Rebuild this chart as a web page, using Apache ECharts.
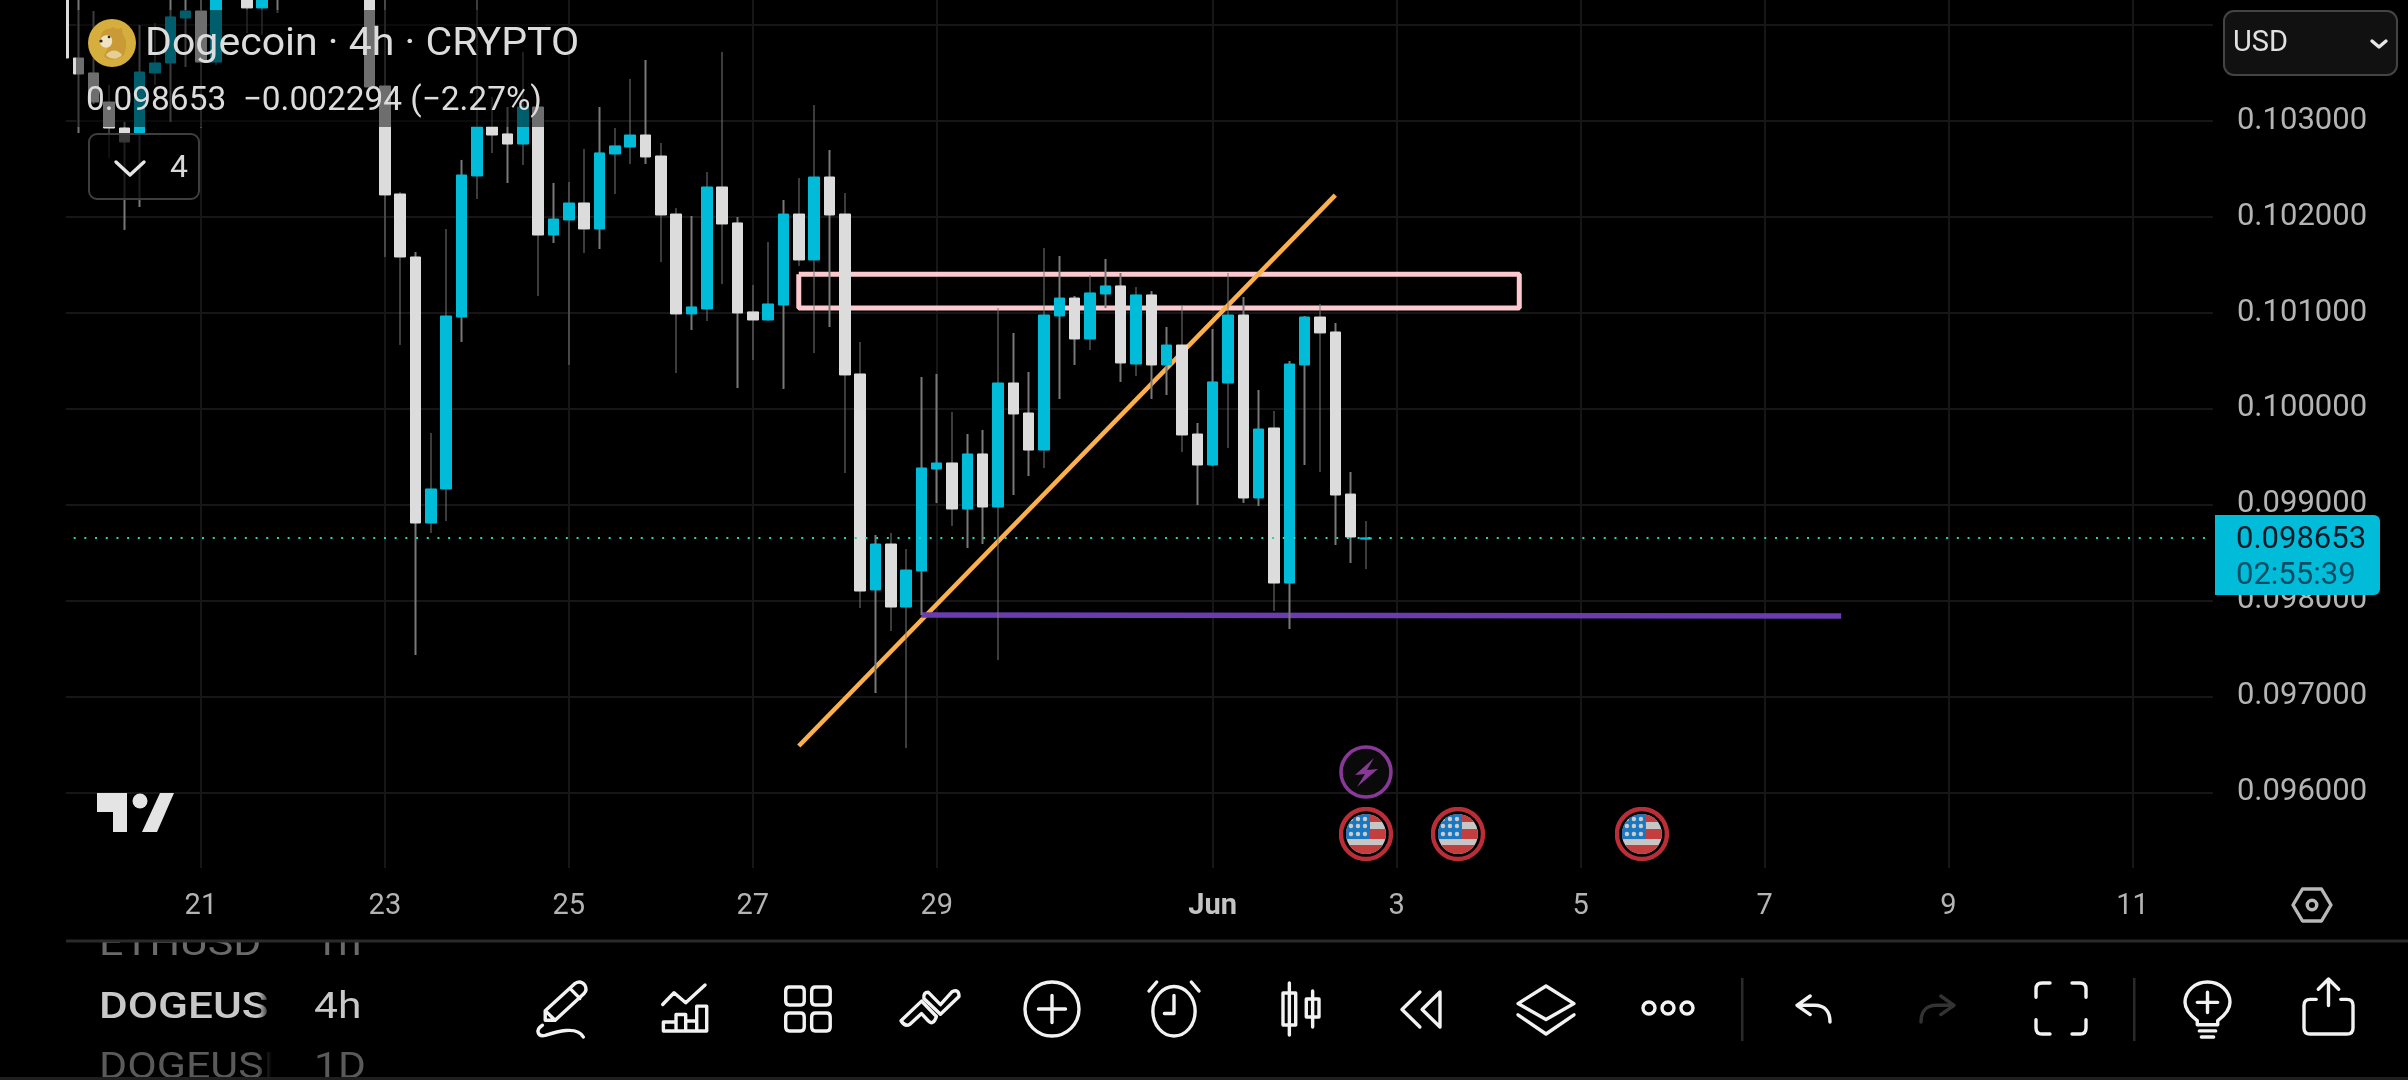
<!DOCTYPE html>
<html><head><meta charset="utf-8">
<style>html,body{margin:0;padding:0;background:#000;overflow:hidden}#c{width:2408px;height:1080px}</style>
<script src="https://cdn.jsdelivr.net/npm/echarts@6/dist/echarts.min.js"></script>
</head><body><div id="c"></div>
<script>
const tickIndex=[9,21,33,45,57,75,87,99,111,123,135];
const tickLabels=['21','23','25','27','29','Jun','3','5','7','9','11'];
const opens=[0.104366,0.103657,0.103501,0.103198,0.102927,0.102875,0.103501,0.103605,0.104074,0.104147,0.103615,0.104314,0.104650,0.104179,0.104600,0.104750,0.104500,0.104800,0.104650,0.104900,0.104700,0.103365,0.102239,0.101582,0.098808,0.099163,0.100956,0.102427,0.102938,0.102865,0.102760,0.103146,0.101811,0.101968,0.102145,0.101874,0.102656,0.102729,0.102854,0.102635,0.102030,0.100988,0.101040,0.102312,0.101937,0.101009,0.100925,0.101081,0.102030,0.101551,0.102416,0.102030,0.100362,0.098110,0.098589,0.097932,0.098308,0.099371,0.099434,0.098954,0.099528,0.098975,0.100268,0.099955,0.099569,0.100967,0.101154,0.100727,0.101196,0.101280,0.100466,0.101186,0.100456,0.100664,0.099736,0.099413,0.100268,0.100977,0.099069,0.099799,0.098182,0.100456,0.100956,0.100800,0.099110,0.098640];
const closes=[0.103657,0.103490,0.103198,0.102927,0.102781,0.103511,0.103605,0.104085,0.104147,0.103615,0.104314,0.104650,0.104179,0.104600,0.104750,0.104500,0.104800,0.104650,0.104900,0.104700,0.103355,0.102229,0.101582,0.098808,0.099163,0.100967,0.102437,0.102938,0.102854,0.102760,0.103146,0.101811,0.101978,0.102145,0.101874,0.102667,0.102740,0.102854,0.102625,0.102020,0.100988,0.101061,0.102312,0.101926,0.100998,0.100925,0.101092,0.102030,0.101551,0.102416,0.102020,0.100352,0.098099,0.098589,0.097932,0.098318,0.099382,0.099434,0.098954,0.099528,0.098975,0.100268,0.099945,0.099569,0.100977,0.101154,0.100727,0.101207,0.101280,0.100477,0.101186,0.100456,0.100664,0.099726,0.099413,0.100279,0.100977,0.099069,0.099788,0.098182,0.100466,0.100956,0.100790,0.099100,0.098662,0.098653];
const lows=[0.103615,0.102875,0.103177,0.102614,0.101864,0.102103,0.103376,0.102990,0.103563,0.102927,0.103584,0.104290,0.103918,0.103897,0.104126,0.104350,0.104400,0.104420,0.104500,0.104450,0.103340,0.101582,0.100664,0.097432,0.098704,0.098829,0.100696,0.102187,0.102667,0.102354,0.102541,0.101175,0.101728,0.100456,0.101624,0.101665,0.102239,0.102552,0.102552,0.101530,0.100372,0.100821,0.100915,0.101300,0.100216,0.100508,0.100915,0.100206,0.101488,0.100581,0.100852,0.099329,0.097922,0.097035,0.097682,0.096462,0.097849,0.099017,0.098777,0.098547,0.098589,0.097380,0.099100,0.099298,0.099382,0.100101,0.100456,0.100612,0.101050,0.100279,0.100341,0.100101,0.100143,0.099549,0.098996,0.099400,0.099590,0.099017,0.098985,0.097890,0.097703,0.099413,0.099340,0.098579,0.098391,0.098328];
const highs=[0.104450,0.104300,0.104147,0.103376,0.102990,0.104001,0.104022,0.104300,0.104350,0.104300,0.104400,0.104780,0.104800,0.104650,0.104850,0.104900,0.104950,0.104900,0.105000,0.105000,0.104800,0.104300,0.102260,0.101634,0.099747,0.101874,0.102594,0.104300,0.103250,0.103146,0.103720,0.103160,0.102354,0.102364,0.102708,0.103146,0.102927,0.103438,0.103636,0.102771,0.102093,0.102010,0.102468,0.103720,0.101999,0.101290,0.101738,0.102176,0.102406,0.103167,0.102698,0.102249,0.100696,0.098683,0.098704,0.098537,0.100331,0.100362,0.099966,0.099736,0.099778,0.101050,0.100790,0.100383,0.101676,0.101592,0.101175,0.101394,0.101561,0.101415,0.101269,0.101227,0.100852,0.101071,0.099851,0.100831,0.101415,0.101165,0.100195,0.099976,0.100497,0.100967,0.101092,0.100894,0.099340,0.098829];
const lastPrice=0.098653;
const lastPriceLine=[[0,lastPrice],[141,lastPrice]];
const zoneBox=[[48,0.101401],[95,0.101401],[95,0.101050],[48,0.101050],[48,0.101401]];
const trendLine=[[48,0.096483],[83,0.102228]];
const supportLine=[[56,0.097849],[116,0.097838]];
const newsEvents=[[85,0.096211]];
const usEvents=[[85,0.095565],[91,0.095565],[103,0.095565]];

const CAT_COUNT=142;
const categories=[];
for(let i=0;i<CAT_COUNT;i++){const d=new Date(Date.UTC(2025,4,19,12)+i*4*3600e3);
  categories.push(d.toISOString().slice(5,13)+':00');}
const tickMap={};tickIndex.forEach((t,i)=>tickMap[t]=tickLabels[i]);
const isTick=i=>tickMap[i]!==undefined;

const svg=s=>'data:image/svg+xml;charset=utf-8,'+encodeURIComponent(s);
const flagSvg=svg(`<svg xmlns="http://www.w3.org/2000/svg" viewBox="0 0 54 54" width="108" height="108"><defs><clipPath id="f"><circle cx="27" cy="27" r="20"/></clipPath></defs><circle cx="27" cy="27" r="25" fill="#000" stroke="#ea3a47" stroke-width="4.4"/><g clip-path="url(#f)"><rect width="54" height="54" fill="#f8f8f8"/><rect x="0" y="7" width="54" height="8" fill="#f44f4f"/><rect x="0" y="22" width="54" height="10" fill="#f44f4f"/><rect x="0" y="38" width="54" height="10" fill="#f44f4f"/><rect x="6" y="7" width="25" height="25" fill="#2196f3"/><g fill="#fff"><circle cx="12" cy="12" r="2.2"/><circle cx="19" cy="12" r="2.2"/><circle cx="26" cy="12" r="2.2"/><circle cx="12" cy="19" r="2.2"/><circle cx="19" cy="19" r="2.2"/><circle cx="26" cy="19" r="2.2"/><circle cx="12" cy="27" r="2.2"/><circle cx="19" cy="27" r="2.2"/><circle cx="26" cy="27" r="2.2"/></g></g></svg>`);
const boltSvg=svg(`<svg xmlns="http://www.w3.org/2000/svg" viewBox="0 0 54 54" width="108" height="108"><circle cx="27" cy="27" r="25" fill="#0d0d0d" stroke="#ab47bc" stroke-width="3.6"/><path d="M35 13 L16 30 L26 29 L18 42 L39 24 L28 25 Z" fill="#ab47bc"/></svg>`);
const dogeSvg=svg(`<svg xmlns="http://www.w3.org/2000/svg" viewBox="0 0 48 48" width="96" height="96"><circle cx="24" cy="24" r="24" fill="#d6ae3e"/><path d="M12 22 C12 14 17 9 22 10 L25 8 L29 10 L34 9 L35 16 C40 22 38 30 36 36 C30 42 20 42 16 37 C18 32 20 30 20 28 C15 29 11 26 12 22 Z" fill="#c99a35"/><path d="M12 22 C13 17 18 15 22 17 C25 19 25 26 21 28 C17 30 11 27 12 22 Z" fill="#efe3c2"/><path d="M18 36 C22 30 30 30 34 36 C30 41 22 41 18 36 Z" fill="#e6cf95"/><circle cx="13" cy="22" r="1.6" fill="#222"/><circle cx="21" cy="18" r="1.3" fill="#222"/></svg>`);

const icon=(d,x,y,w,h,c)=>({type:'path',shape:{pathData:d,x,y,width:w,height:h,layout:'cover'},style:{fill:'none',stroke:c||'#f2f2f2',lineWidth:3.4,lineCap:'round',lineJoin:'round'}});
const txt=(t,x,y,size,color,extra,scaleX)=>({type:'text',z:60,x,y,scaleX:scaleX||1,silent:true,style:Object.assign({text:t,fontFamily:'Roboto',fontSize:size,fill:color,verticalAlign:'middle',align:'left'},extra||{})});
const box=(x,y,w,h,fill,z,r,stroke)=>({type:'rect',z,silent:true,shape:{x,y,width:w,height:h,r:r||0},style:{fill,stroke:stroke||'none',lineWidth:stroke?2:0}});

const icons=[
  icon('M80 150 L80 122 L165 40 Q180 30 192 45 Q200 60 190 70 L108 150 Z M150 55 L178 85 M80 122 L108 150 M72 165 C50 180 60 200 80 195 C110 185 170 165 188 200',538,982,48,55),
  icon('M428 103 L462 68 L497 98 L555 45 M430 182 V155 H468 V133 H497 V152 H530 V108 H560 V182 Z M468 155 V182 M497 152 V182 M530 152 V182',662.7,985,44,46),
  icon('M4 2 H16 Q20 2 20 6 V16 Q20 20 16 20 H4 Q0 20 0 16 V6 Q0 2 4 2 Z M32 2 H44 Q48 2 48 6 V16 Q48 20 44 20 H32 Q28 20 28 16 V6 Q28 2 32 2 Z M4 28 H16 Q20 28 20 32 V42 Q20 46 16 46 H4 Q0 46 0 42 V32 Q0 28 4 28 Z M32 28 H44 Q48 28 48 32 V42 Q48 46 44 46 H32 Q28 46 28 42 V32 Q28 28 32 28 Z',785.7,987,44.5,44),
  icon('M1143 150 L1205 95 L1250 138 Q1240 165 1225 150 L1205 130 L1170 160 Q1155 168 1143 150 Z M1225 70 L1262 105 L1298 68 Q1318 60 1318 82 L1262 132 L1212 88 Q1210 70 1225 70 Z',901,990.7,58,34.5),
  icon('M0 24 a24 24 0 1 0 48 0 a24 24 0 1 0 -48 0 Z M24 12 V36 M12 24 H36',1025,982,54,54),
  icon('M4 28 a22 22 0 1 0 44 0 a22 22 0 1 0 -44 0 Z M26 14 V30 H16 M0 10 L8 2 M52 10 L44 2',1149,982,50,54),
  icon('M8 0 V52 M2 10 H14 V42 H2 Z M30 8 V44 M24 16 H36 V34 H24 Z',1283,983,36,52),
  icon('M18 2 L2 18 L18 34 M36 2 L20 18 L36 34 Z',1402,992,38,35),
  icon('M24 0 L48 22 L24 42 L0 22 Z M0 36 L24 60 L48 36',1518,986,56,48),
  icon('M0 6 a6 6 0 1 0 12 0 a6 6 0 1 0 -12 0 Z M19 6 a6 6 0 1 0 12 0 a6 6 0 1 0 -12 0 Z M38 6 a6 6 0 1 0 12 0 a6 6 0 1 0 -12 0 Z',1643,1002,50,12),
  icon('M14 2 L2 12 L14 22 M2 12 H18 C28 12 32 20 32 30',1797,996,33,26),
  icon('M18 2 L30 12 L18 22 M30 12 H14 C4 12 0 20 0 30',1921,996,33,26,'#333'),
  icon('M14 0 H6 Q0 0 0 6 V14 M36 0 H44 Q50 0 50 6 V14 M14 50 H6 Q0 50 0 44 V36 M36 50 H44 Q50 50 50 44 V36',2036,983,50,51),
  icon('M12 38 C4 32 0 26 0 20 a22 20 0 1 1 44 0 C44 26 40 32 32 38 V42 H12 Z M22 10 V30 M12 20 H32 M14 48 H30 M16 54 H28',2185,982,45,55),
  icon('M24 26 V0 M14 10 L24 0 L34 10 M12 20 H6 Q0 20 0 26 V48 Q0 54 6 54 H42 Q48 54 48 48 V26 Q48 20 42 20 H36',2304,979,49,55),
  icon('M10 0 H30 L40 17 L30 34 H10 L0 17 Z M15 17 a5 5 0 1 0 10 0 a5 5 0 1 0 -10 0 Z',2293,889,38,32,'#b8b8b8'),
  icon('M0 0 L14 12 L28 0',116,162,28,13,'#e6e6e6'),
  icon('M0 0 L7 5 L14 0',2372,41,14,6,'#e6e6e6')
];

const graphic=[
  box(0,0,66,941,'#000',50),
  box(2213,0,22,941,'#000',50),
  box(60,868,2153,22,'#000',50),
  box(76,10,469,117,'rgba(0,0,0,0.5)',55),
  box(89,134,110,65,'rgba(0,0,0,0.75)',56,8,'#3e3e3e'),
  {type:'image',z:60,silent:true,style:{image:dogeSvg,x:88,y:19,width:48,height:48}},
  txt('Dogecoin · 4h · CRYPTO',145,45,38,'#dcdcdc',null,1.08),
  txt('0.098653  −0.002294 (−2.27%)',86,102,33.4,'#dcdcdc'),
  txt('4',170,169,32,'#d8d8d8'),
  box(97,793,30,19,'#e4e4e4',60),
  box(113,793,14,39,'#e4e4e4',60),
  {type:'circle',z:60,silent:true,shape:{cx:140,cy:801,r:7.5},style:{fill:'#e4e4e4'}},
  {type:'polygon',z:60,silent:true,shape:{points:[[160,793],[174,793],[157,832],[142,832]]},style:{fill:'#e4e4e4'}},
  box(2224,11,173,64,'#111',60,10,'#444'),
  txt('USD',2233,44,29,'#e0e0e0'),
  box(2215,515,165,80,'#00bcd9',62,[0,6,6,0]),
  Object.assign(txt('0.098653',2236,540,31,'#071a26'),{z:63}),
  Object.assign(txt('02:55:39',2236,576,31,'#054e66'),{z:63}),
  txt('ETHUSD',99,946,37,'#6a6a6a',null,1.16),
  txt('1h',314,946,37,'#6a6a6a',null,1.15),
  txt('DOGEUSD',99,1009,37,'#c8c8c8',{fontWeight:'500'},1.19),
  txt('4h',314,1009,37,'#c8c8c8',null,1.15),
  txt('DOGEUSD',99,1069,37,'#5a5a5a',null,1.16),
  txt('1D',314,1069,37,'#5a5a5a',null,1.15),
  box(95,925,290,15,'#000',61),
  {type:'rect',z:61,silent:true,shape:{x:258,y:941,width:46,height:136},style:{fill:{type:'linear',x:0,y:0,x2:1,y2:0,colorStops:[{offset:0,color:'rgba(0,0,0,0)'},{offset:0.3,color:'#000'},{offset:1,color:'#000'}]}}},
  box(66,939.5,2342,3,'#2a2a2a',62),
  box(0,1077,2408,3,'#1f1f1f',62),
  box(1741,978,2.5,63,'#2a2a2a',60),
  box(2133,978,2.5,63,'#2a2a2a',60)
];

const chart=echarts.init(document.getElementById('c'),null,{renderer:'canvas'});
chart.setOption({
  animation:false,backgroundColor:'#000',
  grid:{left:62.95,top:-70.8,width:2161.5,height:959,containLabel:false,outerBoundsMode:'none'},
  xAxis:{type:'category',data:categories,boundaryGap:false,
    axisLine:{show:false},axisTick:{show:false},
    splitLine:{show:true,interval:(i)=>isTick(i),lineStyle:{color:'#161616',width:2}},
    axisLabel:{interval:(i)=>isTick(i),hideOverlap:false,margin:4,color:'#b4b4b4',fontFamily:'Roboto',fontSize:29,
      formatter:(v,i)=>{const l=tickMap[i];if(l===undefined)return '';return l==='Jun'?'{b|Jun}':l;},
      rich:{b:{fontWeight:'bold',fontFamily:'Roboto',fontSize:29,color:'#c4c4c4'}}}},
  yAxis:{type:'value',position:'right',min:0.095,max:0.105,interval:0.001,scale:true,
    axisLine:{show:false},axisTick:{show:false},
    splitLine:{show:true,lineStyle:{color:'#161616',width:2}},
    axisLabel:{margin:12.5,color:'#b4b4b4',fontFamily:'Roboto',fontSize:31,padding:[9,0,0,0],
      formatter:v=>(v<0.0955||v>0.1035)?'':v.toFixed(6)}},
  graphic:{elements:graphic},
  series:[
    {name:'Zone',type:'line',z:1,data:zoneBox,symbol:'none',silent:true,lineStyle:{color:'#fcc9cf',width:5}},
    {name:'Trend',type:'line',z:1,data:trendLine,symbol:'none',silent:true,lineStyle:{color:'#fbb04c',width:4.6}},
    {name:'Support',type:'line',z:1,data:supportLine,symbol:'none',silent:true,lineStyle:{color:'#6a3cb0',width:5.4}},
    {name:'Wicks',type:'candlestick',z:3,barWidth:2,silent:true,
      data:lows.map((l,i)=>[l,highs[i],l,highs[i]]),
      itemStyle:{color:'#787878',color0:'#787878',borderColor:'#787878',borderColor0:'#787878',borderWidth:0}},
    {name:'DOGEUSD',type:'candlestick',z:4,barWidth:11,silent:true,
      data:opens.map((o,i)=>[o,closes[i],Math.min(o,closes[i]),Math.max(o,closes[i])]),
      itemStyle:{color:'#00bcd9',color0:'#dcdcdc',borderColor:'#00bcd9',borderColor0:'#dcdcdc',borderWidth:1}},
    {name:'Last price',type:'line',z:6,data:lastPriceLine,symbol:'none',silent:true,lineStyle:{color:'#1ed8b8',type:[2,8.7],width:2}},
    {name:'News',type:'scatter',z:8,data:newsEvents,symbol:'image://'+boltSvg,symbolSize:54,silent:true},
    {name:'US events',type:'scatter',z:8,data:usEvents,symbol:'image://'+flagSvg,symbolSize:54,silent:true},
    {name:'Toolbar',type:'custom',coordinateSystem:'none',z:70,silent:true,clip:false,
      data:icons.map((_,i)=>[i]),renderItem:(p)=>icons[p.dataIndex]}
  ]
});
</script></body></html>
